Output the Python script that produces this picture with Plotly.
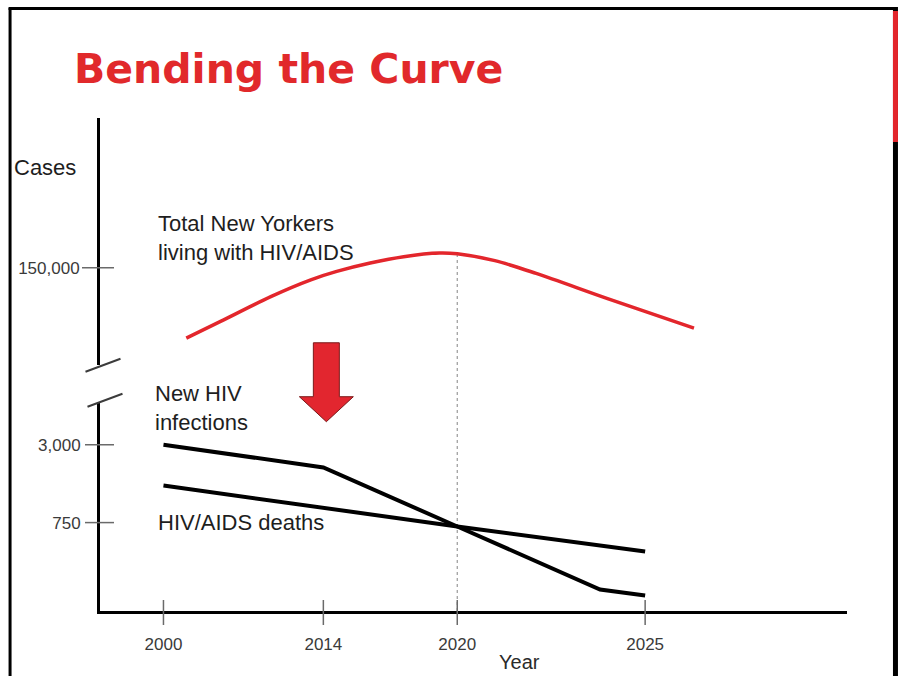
import numpy as np
import plotly.graph_objects as go

# ---------------- data ----------------
TICK_YEARS = [2000, 2014, 2020, 2025]
TICK_YEAR_LABELS = ["2000", "2014", "2020", "2025"]

living_years = [2002, 2005, 2009.4, 2012.9, 2014.6, 2016.1, 2017.6, 2019.2, 2020,
                2021, 2022.1, 2024, 2026.3]
living_cases = [132400, 136600, 142800, 147000, 149100, 151200, 152800, 153700, 153500,
                151800, 148600, 142300, 134900]

infection_years = [2000, 2014, 2020, 2023.8, 2025]
infection_cases = [3000, 2000, 700, 228, 205]

death_years = [2000, 2020, 2025]
death_cases = [1450, 700, 448]

UPPER_TICKS = [150000]
UPPER_TICK_LABELS = ["150,000"]
LOWER_TICKS = [750, 3000]
LOWER_TICK_LABELS = ["750", "3,000"]

# ---------------- layout (schematic axis geometry) ----------------
W, H = 898, 676
PLOT_L, PLOT_R, PLOT_T, PLOT_B = 99.5, 847, 118, 611.5
# schematic (non-linear) spacing of the year axis, in axis units
YEAR_POS = [163, 323, 457, 645]


def year_to_pos(years):
    years = np.asarray(years, dtype=float)
    pos = np.interp(years, TICK_YEARS, YEAR_POS)
    lo_slope = (YEAR_POS[1] - YEAR_POS[0]) / (TICK_YEARS[1] - TICK_YEARS[0])
    hi_slope = (YEAR_POS[-1] - YEAR_POS[-2]) / (TICK_YEARS[-1] - TICK_YEARS[-2])
    pos = np.where(years < TICK_YEARS[0], YEAR_POS[0] + (years - TICK_YEARS[0]) * lo_slope, pos)
    pos = np.where(years > TICK_YEARS[-1], YEAR_POS[-1] + (years - TICK_YEARS[-1]) * hi_slope, pos)
    return pos


def xp(px):
    return (px - PLOT_L) / (PLOT_R - PLOT_L)


def yp(py):
    return (PLOT_B - py) / (PLOT_B - PLOT_T)


# broken value axis: upper linear segment, lower log segment
UPPER_TOP_PX, UPPER_BOT_PX = PLOT_T, 365
LOWER_TOP_PX = 402
UPPER_DOMAIN = [yp(UPPER_BOT_PX), 1.0]
LOWER_DOMAIN = [0.0, yp(LOWER_TOP_PX)]
# scale anchors: 150,000 sits at y=268 with 250 cases per px; 750 at 523 and 3,000 at 445
_upp = 250.0
UPPER_RANGE = [150000 - (UPPER_BOT_PX - 268) * _upp, 150000 + (268 - UPPER_TOP_PX) * _upp]
_dec_px = (523 - 445) / np.log10(3000 / 750)
LOWER_RANGE = [np.log10(750) - (PLOT_B - 523) / _dec_px, np.log10(750) + (523 - LOWER_TOP_PX) / _dec_px]

RED = "#e3262c"
TEXT = "#1e1e1e"
TICK_TXT = "#3a3a3a"
SANS = "Liberation Sans, Arial, sans-serif"

fig = go.Figure()

fig.add_trace(go.Scatter(
    x=year_to_pos(living_years), y=living_cases, xaxis="x", yaxis="y2",
    mode="lines", line=dict(color=RED, width=3.5, shape="spline", smoothing=0.9),
    hoverinfo="skip", showlegend=False))

fig.add_trace(go.Scatter(
    x=year_to_pos(infection_years), y=infection_cases, xaxis="x", yaxis="y",
    mode="lines", line=dict(color="#000000", width=4), hoverinfo="skip", showlegend=False))

fig.add_trace(go.Scatter(
    x=year_to_pos(death_years), y=death_cases, xaxis="x", yaxis="y",
    mode="lines", line=dict(color="#000000", width=4), hoverinfo="skip", showlegend=False))

# dashed guide at 2020 from x-axis up to the living curve
peak_val = float(np.interp(2020, living_years, living_cases))
peak_paper = UPPER_DOMAIN[0] + (peak_val - UPPER_RANGE[0]) / (UPPER_RANGE[1] - UPPER_RANGE[0]) * (UPPER_DOMAIN[1] - UPPER_DOMAIN[0])
x2020 = float(year_to_pos([2020])[0])

shapes = []
shapes.append(dict(type="line", xref="x", yref="paper", x0=x2020, x1=x2020, y0=0, y1=peak_paper,
                   line=dict(color="#9a9a9a", width=1.2, dash="3px,3px"), layer="below"))

# tick marks crossing the axes
TICK_COL = "#6a6a6a"
for yr in TICK_YEARS:
    p = float(year_to_pos([yr])[0])
    shapes.append(dict(type="line", xref="x", yref="paper", x0=p, x1=p,
                       ysizemode="pixel", yanchor=0, y0=-14, y1=11,
                       line=dict(color=TICK_COL, width=1.5)))
for v in LOWER_TICKS:
    shapes.append(dict(type="line", xref="paper", yref="y", y0=v, y1=v,
                       xsizemode="pixel", xanchor=0, x0=-15, x1=14,
                       line=dict(color=TICK_COL, width=1.5)))
for v in UPPER_TICKS:
    shapes.append(dict(type="line", xref="paper", yref="y2", y0=v, y1=v,
                       xsizemode="pixel", xanchor=0, x0=-18, x1=14,
                       line=dict(color=TICK_COL, width=1.5)))

# axis break marks
for (a, b) in [((85, 372), (120, 359)), ((87, 407), (122, 394))]:
    shapes.append(dict(type="line", xref="paper", yref="paper",
                       x0=xp(a[0]), y0=yp(a[1]), x1=xp(b[0]), y1=yp(b[1]),
                       line=dict(color="#3c3c3c", width=2)))

# red down arrow
arrow_px = [(313, 343), (339, 343), (339, 397), (353, 397), (326, 422), (299, 397), (313, 397)]
path = "M " + " L ".join(f"{xp(a):.5f},{yp(b):.5f}" for a, b in arrow_px) + " Z"
shapes.append(dict(type="path", xref="paper", yref="paper", path=path,
                   fillcolor="#e2262f", line=dict(color="#7a1a1a", width=1)))

# slide frame
shapes.append(dict(type="line", xref="paper", yref="paper", x0=xp(9.5), x1=xp(9.5), y0=yp(8), y1=yp(690),
                   line=dict(color="#000000", width=3)))
shapes.append(dict(type="line", xref="paper", yref="paper", x0=xp(8), x1=xp(897), y0=yp(8.5), y1=yp(8.5),
                   line=dict(color="#000000", width=3)))
shapes.append(dict(type="line", xref="paper", yref="paper", x0=xp(895.5), x1=xp(895.5), y0=yp(7), y1=yp(690),
                   line=dict(color="#000000", width=5)))
shapes.append(dict(type="line", xref="paper", yref="paper", x0=xp(895.5), x1=xp(895.5), y0=yp(11), y1=yp(142),
                   line=dict(color=RED, width=5)))

annotations = [
    dict(text="<b>Bending the Curve</b>", xref="paper", yref="paper", x=xp(71), y=yp(69),
         xanchor="left", yanchor="middle", showarrow=False,
         font=dict(family="DejaVu Sans", size=41, color="#e1292b")),
    dict(text="Cases", xref="paper", yref="paper", x=xp(11), y=yp(168),
         xanchor="left", yanchor="middle", showarrow=False, font=dict(family=SANS, size=22, color=TEXT)),
    dict(text="Total New Yorkers<br>living with HIV/AIDS", xref="paper", yref="paper", x=xp(156), y=yp(238),
         xanchor="left", yanchor="middle", align="left", showarrow=False, font=dict(family=SANS, size=22, color=TEXT)),
    dict(text="New HIV<br>infections", xref="paper", yref="paper", x=xp(153), y=yp(408),
         xanchor="left", yanchor="middle", align="left", showarrow=False, font=dict(family=SANS, size=22, color=TEXT)),
    dict(text="HIV/AIDS deaths", xref="paper", yref="paper", x=xp(156), y=yp(523),
         xanchor="left", yanchor="middle", align="left", showarrow=False, font=dict(family=SANS, size=22, color=TEXT)),
    dict(text="Year", xref="paper", yref="paper", x=xp(519), y=yp(663),
         xanchor="center", yanchor="middle", showarrow=False, font=dict(family=SANS, size=20, color="#2a2a2a")),
]

axis_line = dict(showline=True, linecolor="#000000", linewidth=3, showgrid=False, zeroline=False)

fig.update_layout(
    width=W, height=H,
    margin=dict(l=PLOT_L, r=W - PLOT_R, t=PLOT_T, b=H - PLOT_B, pad=0),
    paper_bgcolor="white", plot_bgcolor="white",
    showlegend=False,
    xaxis=dict(range=[PLOT_L, PLOT_R], anchor="y", tickmode="array",
               tickvals=list(year_to_pos(TICK_YEARS)), ticktext=TICK_YEAR_LABELS,
               ticks="outside", ticklen=14, tickcolor="rgba(0,0,0,0)", ticklabelstandoff=2,
               tickfont=dict(family=SANS, size=17, color=TICK_TXT), fixedrange=True, **axis_line),
    yaxis=dict(type="log", range=LOWER_RANGE, domain=LOWER_DOMAIN, anchor="x",
               tickmode="array", tickvals=LOWER_TICKS, ticktext=LOWER_TICK_LABELS,
               ticks="outside", ticklen=13, tickcolor="rgba(0,0,0,0)", ticklabelstandoff=0,
               tickfont=dict(family=SANS, size=17, color=TICK_TXT), fixedrange=True, **axis_line),
    yaxis2=dict(range=UPPER_RANGE, domain=UPPER_DOMAIN, anchor="x",
                tickmode="array", tickvals=UPPER_TICKS, ticktext=UPPER_TICK_LABELS,
                ticks="outside", ticklen=14, tickcolor="rgba(0,0,0,0)", ticklabelstandoff=0,
                tickfont=dict(family=SANS, size=17, color=TICK_TXT), fixedrange=True, **axis_line),
    shapes=shapes,
    annotations=annotations,
)

fig.write_html(
    "out.html",
    config={"displayModeBar": False},
    post_script="document.body.style.margin='0';document.documentElement.style.overflow='hidden';",
)
